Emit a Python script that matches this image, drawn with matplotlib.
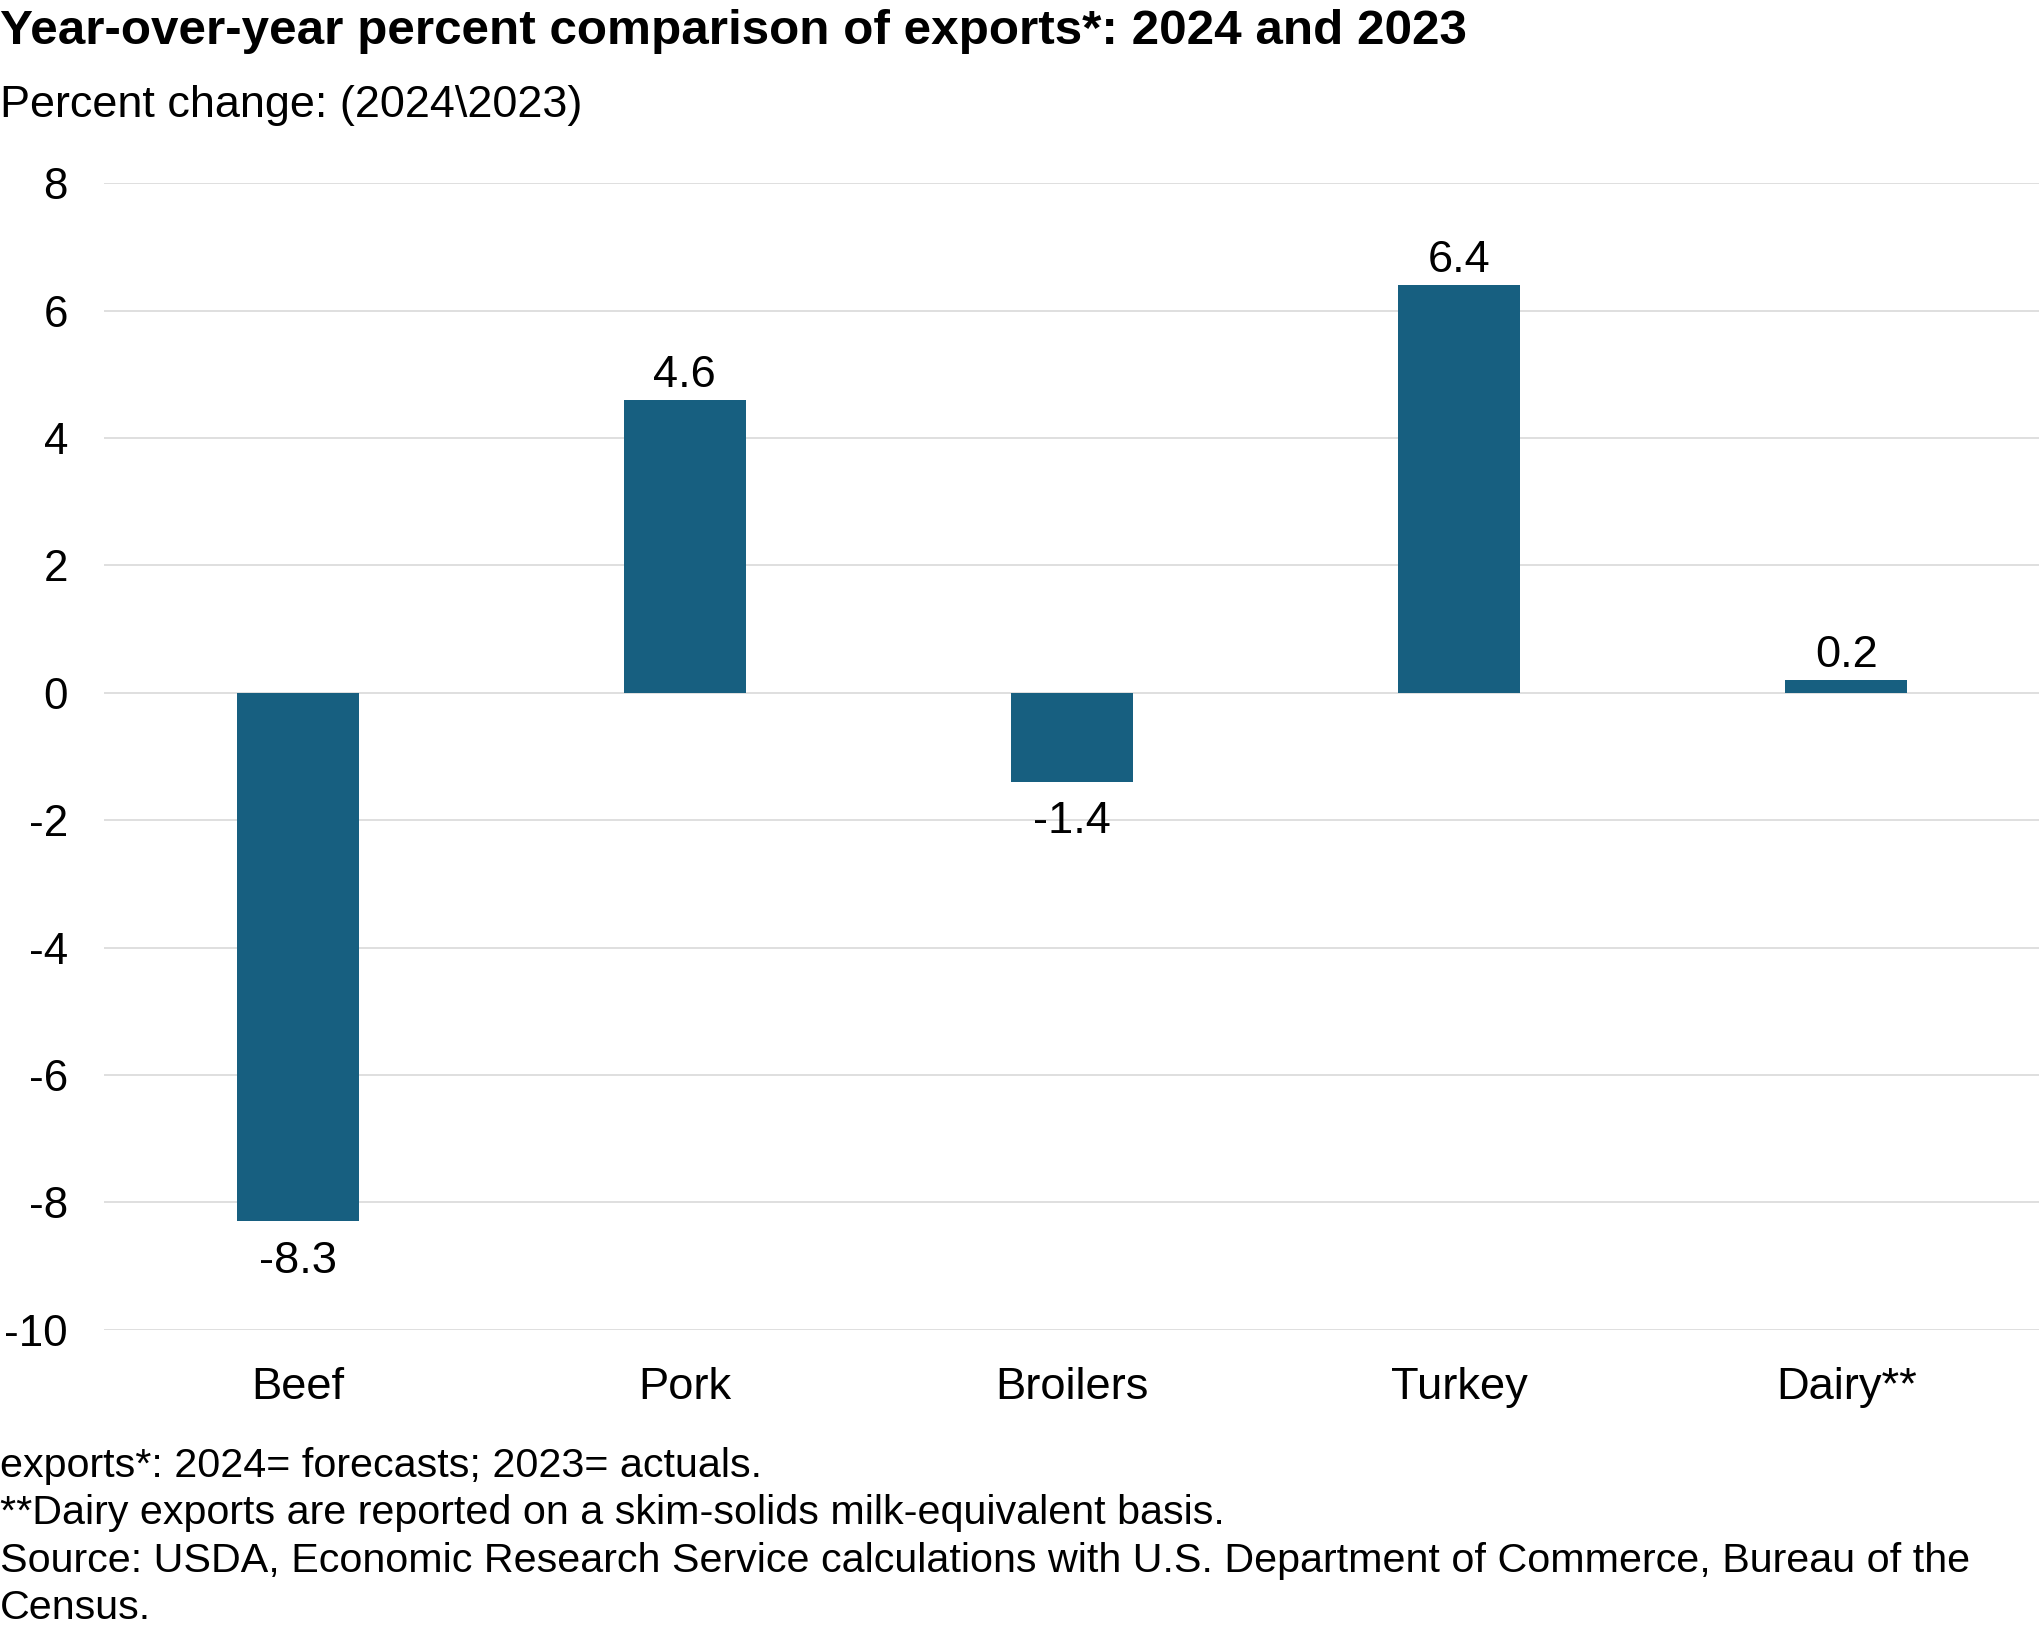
#! /usr/bin/env python

import numpy as np
import matplotlib
matplotlib.use("Agg")
import matplotlib.pyplot as plt

# data
categories = ["Beef", "Pork", "Broilers", "Turkey", "Dairy**"]
pct_change = [-8.3, 4.6, -1.4, 6.4, 0.2]
yticks = [-10, -8, -6, -4, -2, 0, 2, 4, 6, 8]

title = "Year-over-year percent comparison of exports*: 2024 and 2023"
subtitle = "Percent change: (2024\\2023)"
notes = [
    "exports*: 2024= forecasts; 2023= actuals.",
    "**Dairy exports are reported on a skim-solids milk-equivalent basis.",
    "Source: USDA, Economic Research Service calculations with U.S. Department of Commerce, Bureau of the",
    "Census.",
]

bar_color = "#175f80"
grid_color = "#d9d9d9"

plt.rcParams["font.family"] = ["Liberation Sans", "DejaVu Sans"]

fig = plt.figure(figsize=(10.2, 8.16), dpi=200)
ax = fig.add_axes([0.051, 0.1853, 0.949, 0.7023])

x = np.arange(len(categories))
bars = ax.bar(x, pct_change, width=0.315, color=bar_color, zorder=3)

# value labels above / below the bars
for xi, v in zip(x, pct_change):
    if v >= 0:
        ax.annotate(f"{v:.1f}", (xi, v), xytext=(0, 1.5), textcoords="offset points",
                    ha="center", va="bottom", fontsize=16.3)
    else:
        ax.annotate(f"{v:.1f}", (xi, v), xytext=(0, -7), textcoords="offset points",
                    ha="center", va="top", fontsize=16.3)

ax.set_xlim(-0.5, len(categories) - 0.5)
ax.set_ylim(-10, 8)
ax.set_yticks(yticks)
ax.set_yticklabels([str(t) for t in yticks], fontsize=15.8)
ax.set_xticks(x)
ax.set_xticklabels(categories, fontsize=16.3)
ax.tick_params(axis="both", length=0)
ax.tick_params(axis="y", pad=13)
ax.tick_params(axis="x", pad=13.3)
ax.grid(axis="y", color=grid_color, linewidth=0.6, zorder=0)
for s in ax.spines.values():
    s.set_visible(False)

# titles and footnotes
fig.text(0.0, 1 - 32 / 1632, title, fontsize=17.8, fontweight="bold", va="center", ha="left")
fig.text(0.0, 1 - 105 / 1632, subtitle, fontsize=16.2, va="center", ha="left")
for i, line in enumerate(notes):
    fig.text(0.0, 1 - (1466 + 47.3 * i) / 1632, line, fontsize=14.85, va="center", ha="left")

fig.savefig("out.png", dpi=200)
